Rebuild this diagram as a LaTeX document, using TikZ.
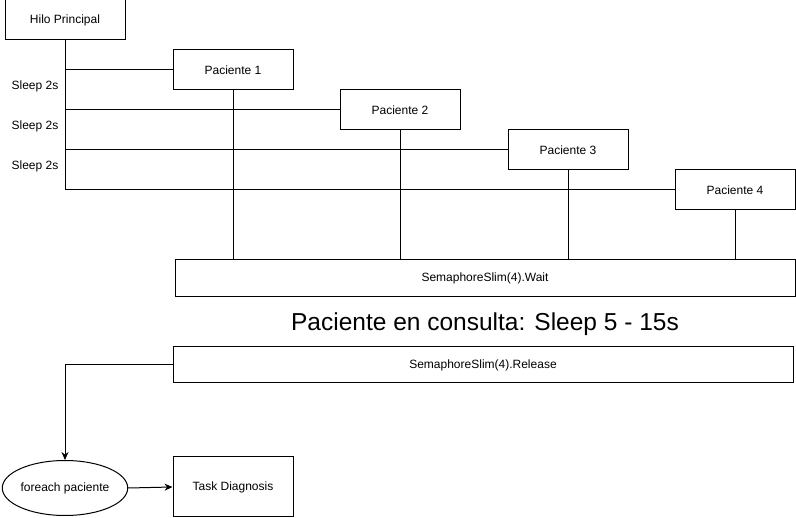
\documentclass[tikz,border=0pt]{standalone}
\usepackage{fontspec}
\setmainfont{Liberation Sans}
\usetikzlibrary{arrows.meta,shapes.geometric}
\begin{document}
\begin{tikzpicture}[x=1pt,y=-1pt,
  box/.style={draw,line width=1pt,minimum width=120pt,minimum height=40pt,font=\fontsize{12}{14}\selectfont,inner sep=0pt},
  wide/.style={draw,line width=1pt,minimum width=620pt,minimum height=37pt,font=\fontsize{12}{14}\selectfont,inner sep=0pt},
  lbl/.style={font=\fontsize{12}{14}\selectfont,inner sep=0pt},
  conn/.style={line width=1pt},
  arr/.style={line width=1pt,-{Stealth[length=8pt,width=7pt]}}]
\useasboundingbox (0,0) rectangle (796,518);
\fill[white] (0,0) rectangle (796,518);
\node[box] (hilo) at (65,20) {Hilo Principal};
\node[box] (p1) at (233,70) {Paciente 1};
\node[box] (p2) at (400,110) {Paciente 2};
\node[box] (p3) at (568,150) {Paciente 3};
\node[box] (p4) at (735,190) {Paciente 4};
\node[wide] (wait) at (485,278.5) {SemaphoreSlim(4).Wait};
\node[font=\fontsize{24.5}{28}\selectfont,inner sep=0pt] (cons) at (485,324) {Paciente en consulta: Sleep 5 - 15s};
\node[wide,minimum height=36pt] (rel) at (483,365) {SemaphoreSlim(4).Release};
\node[draw,ellipse,line width=1pt,minimum width=120pt,minimum height=55pt,inner sep=0pt,font=\fontsize{12}{14}\selectfont] (fe) at (65,488) {foreach paciente};
\node[box,minimum height=60pt] (task) at (233,487) {Task Diagnosis};
\node[lbl] (s1) at (35,86) {Sleep 2s};
\node[lbl] (s2) at (35,126) {Sleep 2s};
\node[lbl] (s3) at (35,166) {Sleep 2s};
\coordinate (t4) at (hilo.south |- p4.west);
\draw[conn] (hilo.south) -- (t4) -- (p4.west);
\draw[conn] (hilo.south |- p1.west) -- (p1.west);
\draw[conn] (hilo.south |- p2.west) -- (p2.west);
\draw[conn] (hilo.south |- p3.west) -- (p3.west);
\draw[conn] (p1.south) -- (p1.south |- wait.north);
\draw[conn] (p2.south) -- (p2.south |- wait.north);
\draw[conn] (p3.south) -- (p3.south |- wait.north);
\draw[conn] (p4.south) -- (p4.south |- wait.north);
\draw[arr] (rel.west) -| (fe.north);
\draw[arr] (fe.east) -- (task.west);
\end{tikzpicture}
\end{document}
